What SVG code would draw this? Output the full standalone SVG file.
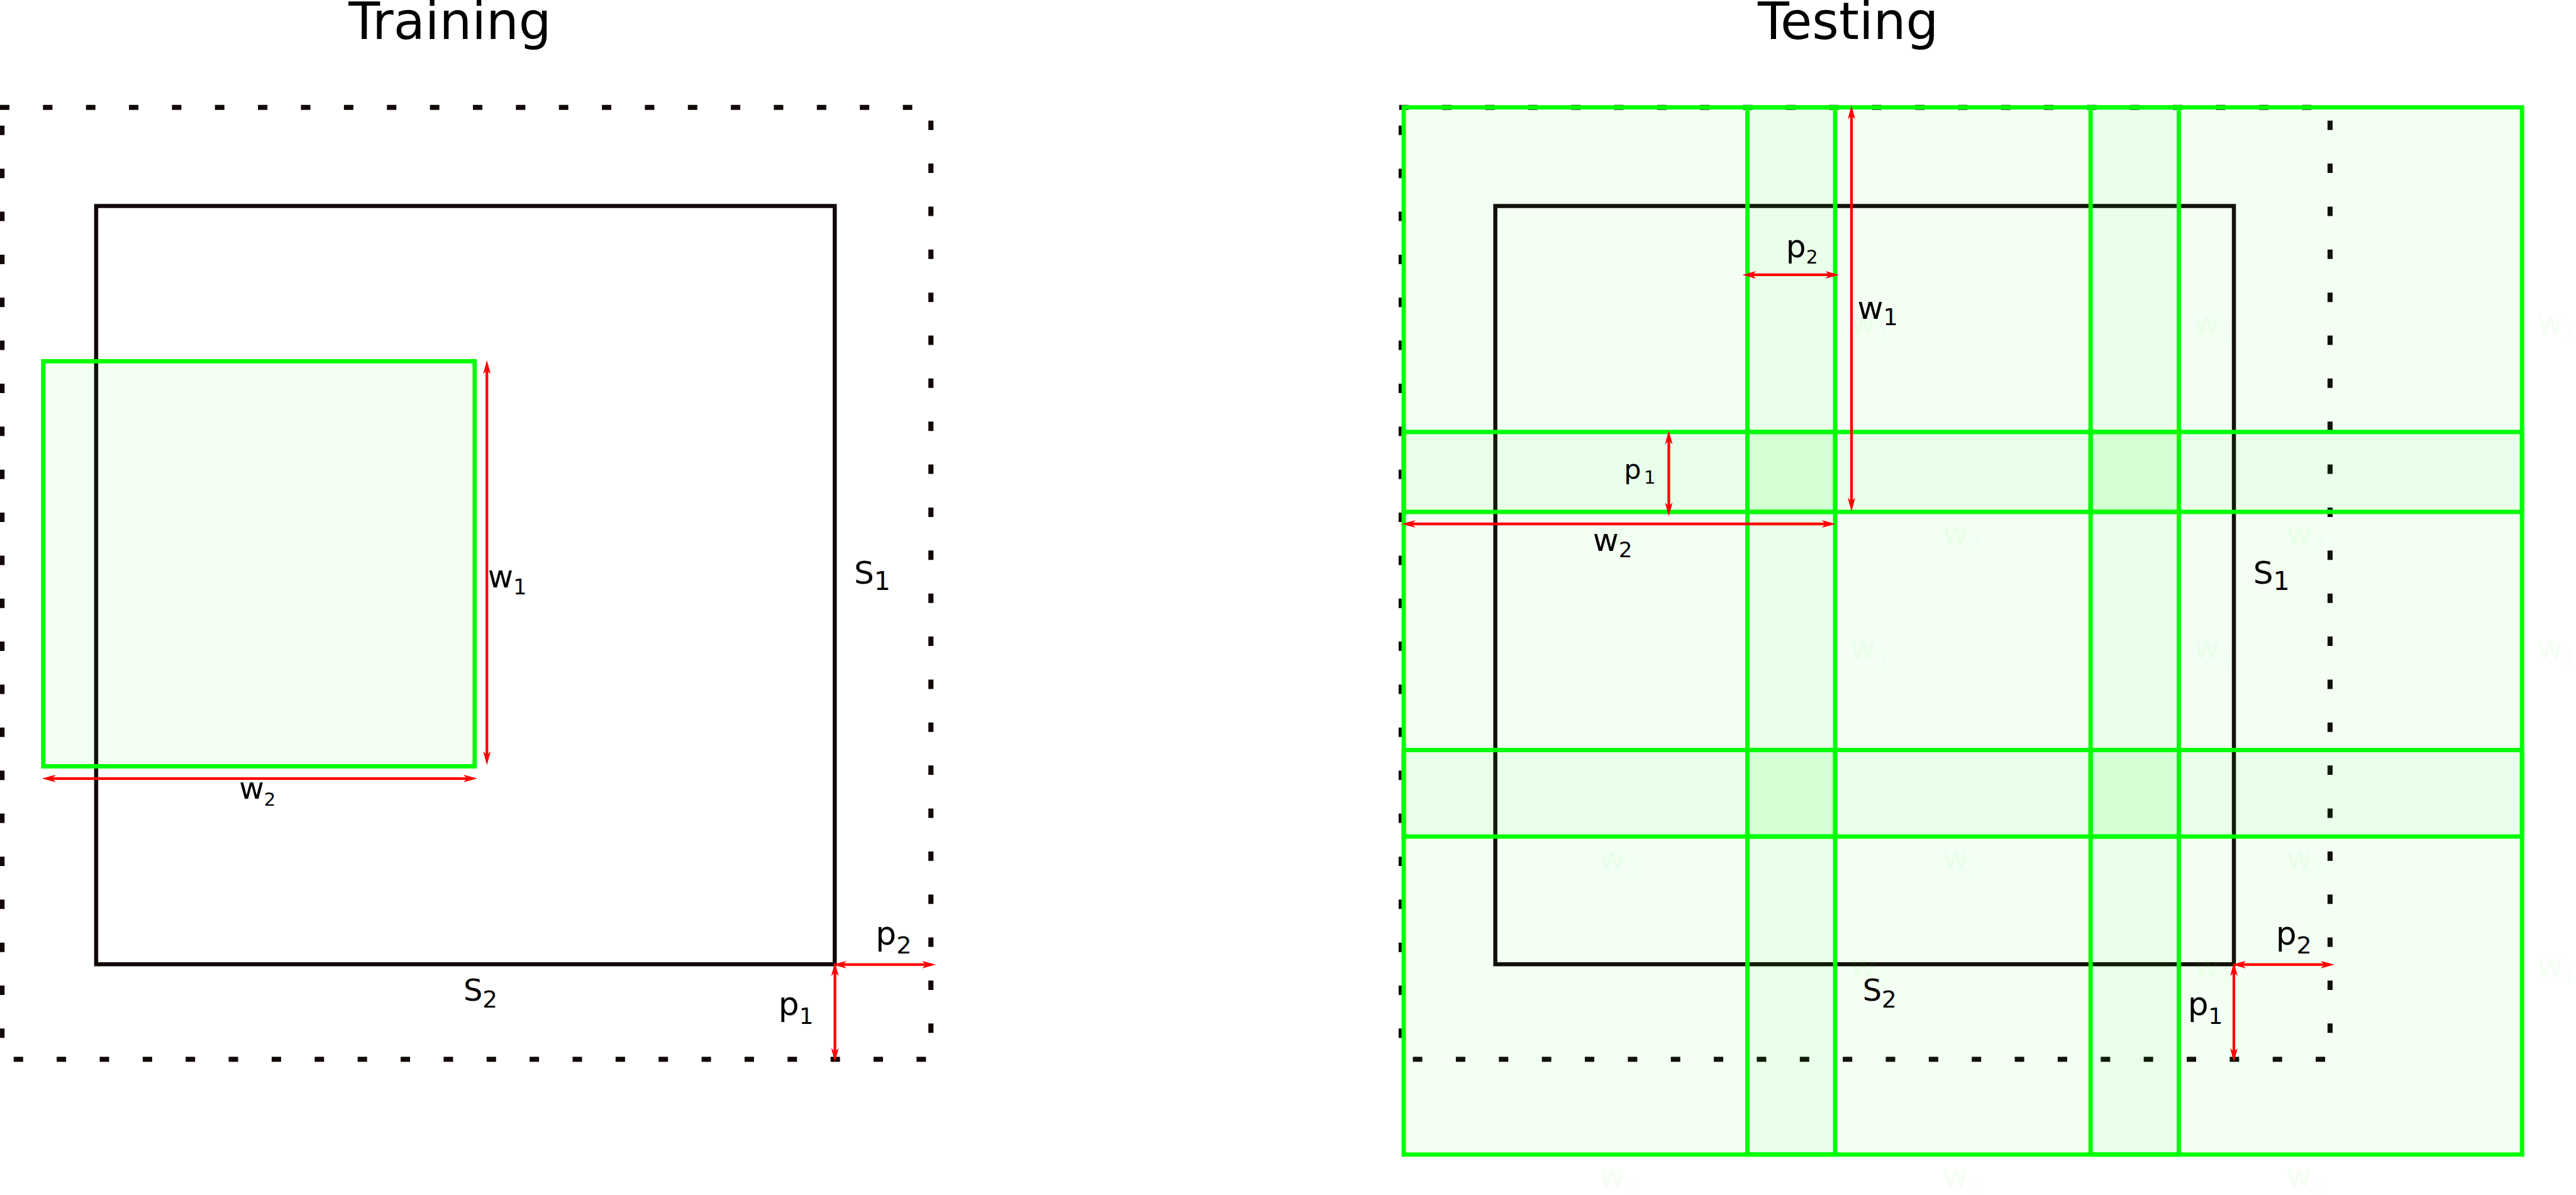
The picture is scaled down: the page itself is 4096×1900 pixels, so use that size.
<svg xmlns="http://www.w3.org/2000/svg" width="4096" height="1900" viewBox="0 0 4096 1900">
<style>
text{font-family:"DejaVu Sans","Liberation Sans",sans-serif;fill:#000}
.title{font-size:81.7px}
.dot{fill:none;stroke:#120808;stroke-width:8.1;stroke-dasharray:15 53.36}
.img{fill:none;stroke:#120808;stroke-width:6.5}
.win{fill:#00ff00;fill-opacity:0.042;stroke:#00ff00;stroke-width:6.9}
.arr{fill:none;stroke:#ff0000;stroke-width:4.3;marker-start:url(#ah);marker-end:url(#ah)}
.ghost{fill:#00ff00;fill-opacity:0.05;font-size:49.3px}
.ghost tspan{font-size:33.2px}
</style>
<defs>
<marker id="ah" markerUnits="userSpaceOnUse" markerWidth="40" markerHeight="20" viewBox="-20 -10 30 20" refX="0" refY="0" orient="auto-start-reverse" overflow="visible">
<path d="M8,0 L-14,-6 L-8,0 L-14,6 Z" fill="#ff0000"/>
</marker>
</defs>
<rect width="4096" height="1900" fill="#ffffff"/>

<g id="title-training"><text class="title" x="554.2" y="61.9">Training</text></g>
<g id="title-testing"><text class="title" x="2795.1" y="62">Testing</text></g>

<g id="training-padded-bounds">
<line class="dot" x1="0" y1="170.7" x2="1460" y2="170.7"/>
<line class="dot" x1="1480.2" y1="191.7" x2="1480.2" y2="1660"/>
<line class="dot" x1="21.8" y1="1684.3" x2="1475" y2="1684.3"/>
<line class="dot" x1="3.2" y1="199.8" x2="3.2" y2="1655"/>
</g>
<g id="training-image"><rect class="img" x="152.9" y="327.5" width="1174.4" height="1205.6"/></g>
<g id="training-window"><rect class="win" x="68.8" y="574.4" width="686" height="644"/></g>

<g id="testing-padded-bounds">
<line class="dot" x1="2224.75" y1="170.7" x2="3684.75" y2="170.7"/>
<line class="dot" x1="3704.95" y1="191.7" x2="3704.95" y2="1660"/>
<line class="dot" x1="2246.55" y1="1684.3" x2="3699.75" y2="1684.3"/>
<line class="dot" x1="2227.95" y1="199.8" x2="2227.95" y2="1655"/>
</g>
<g id="testing-image"><rect class="img" x="2377.65" y="327.5" width="1174.4" height="1205.6"/></g>
<g id="testing-windows">
<rect class="win" x="2232" y="170.7" width="686" height="643.2"/>
<rect class="win" x="2778.5" y="170.7" width="686" height="643.2"/>
<rect class="win" x="3324.2" y="170.7" width="686" height="643.2"/>
<rect class="win" x="2232" y="686.8" width="686" height="643.2"/>
<rect class="win" x="2778.5" y="686.8" width="686" height="643.2"/>
<rect class="win" x="3324.2" y="686.8" width="686" height="643.2"/>
<rect class="win" x="2232" y="1192.5" width="686" height="643.2"/>
<rect class="win" x="2778.5" y="1192.5" width="686" height="643.2"/>
<rect class="win" x="3324.2" y="1192.5" width="686" height="643.2"/>
</g>
<g id="testing-ghost-labels">
<text class="ghost" x="2942.3" y="530.7">w<tspan dy="10.8">1</tspan></text>
<text class="ghost" x="3488.8" y="530.7">w<tspan dy="10.8">1</tspan></text>
<text class="ghost" x="4034.5" y="530.7">w<tspan dy="10.8">1</tspan></text>
<text class="ghost" x="2942.3" y="1046.8">w<tspan dy="10.8">1</tspan></text>
<text class="ghost" x="3488.8" y="1046.8">w<tspan dy="10.8">1</tspan></text>
<text class="ghost" x="4034.5" y="1046.8">w<tspan dy="10.8">1</tspan></text>
<text class="ghost" x="2942.3" y="1552.5">w<tspan dy="10.8">1</tspan></text>
<text class="ghost" x="3488.8" y="1552.5">w<tspan dy="10.8">1</tspan></text>
<text class="ghost" x="4034.5" y="1552.5">w<tspan dy="10.8">1</tspan></text>
<text class="ghost" x="2543.5" y="865.6">w<tspan dy="10.5">2</tspan></text>
<text class="ghost" x="3089" y="865.6">w<tspan dy="10.5">2</tspan></text>
<text class="ghost" x="3635.6" y="865.6">w<tspan dy="10.5">2</tspan></text>
<text class="ghost" x="2543.5" y="1381.8">w<tspan dy="10.5">2</tspan></text>
<text class="ghost" x="3089" y="1381.8">w<tspan dy="10.5">2</tspan></text>
<text class="ghost" x="3635.6" y="1381.8">w<tspan dy="10.5">2</tspan></text>
<text class="ghost" x="2543.5" y="1887.4">w<tspan dy="10.5">2</tspan></text>
<text class="ghost" x="3089" y="1887.4">w<tspan dy="10.5">2</tspan></text>
<text class="ghost" x="3635.6" y="1887.4">w<tspan dy="10.5">2</tspan></text>
</g>

<g id="connectors">
<path class="arr" d="M774.2,580.8 V1208.6"/>
<path class="arr" d="M74.7,1237.8 H750.8"/>
<path class="arr" d="M1332,1533.7 H1480.1"/>
<path class="arr" d="M1327.6,1538 V1680.4"/>
<path class="arr" d="M2778.3,436.9 H2916.5"/>
<path class="arr" d="M2944,175.8 V805.3"/>
<path class="arr" d="M2653.5,692.4 V813.1"/>
<path class="arr" d="M2236.8,833 H2910.9"/>
<path class="arr" d="M3557,1533.7 H3704"/>
<path class="arr" d="M3552,1538 V1680.4"/>
</g>

<g id="training-labels">
<text id="train-S1" x="1358" y="927.5" font-size="50.2">S<tspan font-size="41.3" dy="10.1">1</tspan></text>
<text id="train-w1" x="775.8" y="934.4" font-size="49.3">w<tspan font-size="33.2" dy="10.8">1</tspan></text>
<text id="train-w2" x="380.2" y="1270.1" font-size="48.5">w<tspan font-size="29.1" dy="10.5">2</tspan></text>
<text id="train-S2" x="737" y="1591.3" font-size="47.7">S<tspan font-size="37.2" dy="10.5">2</tspan></text>
<text id="train-p2" x="1392.3" y="1502.3" font-size="51.8">p<tspan font-size="38" dy="13.8">2</tspan></text>
<text id="train-p1" x="1237.8" y="1614" font-size="51.8">p<tspan font-size="35.6" dy="13.7">1</tspan></text>
</g>
<g id="testing-labels">
<text id="test-p2-top" x="2839.8" y="409.4" font-size="50.2">p<tspan font-size="29.6" dy="9.9">2</tspan></text>
<text id="test-w1" x="2953.4" y="507" font-size="50.2">w<tspan font-size="36.4" dy="10.2">1</tspan></text>
<text id="test-w2" x="2532.7" y="876.4" font-size="50.2">w<tspan font-size="34" dy="10">2</tspan></text>
<text id="test-p1-top" x="2582.2" y="761" font-size="42.9">p<tspan x="2613.9" font-size="29.1" dy="7.6">1</tspan></text>
<text id="test-S1" x="3582.75" y="927.5" font-size="50.2">S<tspan font-size="41.3" dy="10.1">1</tspan></text>
<text id="test-S2" x="2961.75" y="1591.3" font-size="47.7">S<tspan font-size="37.2" dy="10.5">2</tspan></text>
<text id="test-p2-bottom" x="3618.7" y="1502.3" font-size="51.8">p<tspan font-size="38" dy="13.8">2</tspan></text>
<text id="test-p1-bottom" x="3478.7" y="1614" font-size="51.8">p<tspan font-size="35.6" dy="13.7">1</tspan></text>
</g>
</svg>
